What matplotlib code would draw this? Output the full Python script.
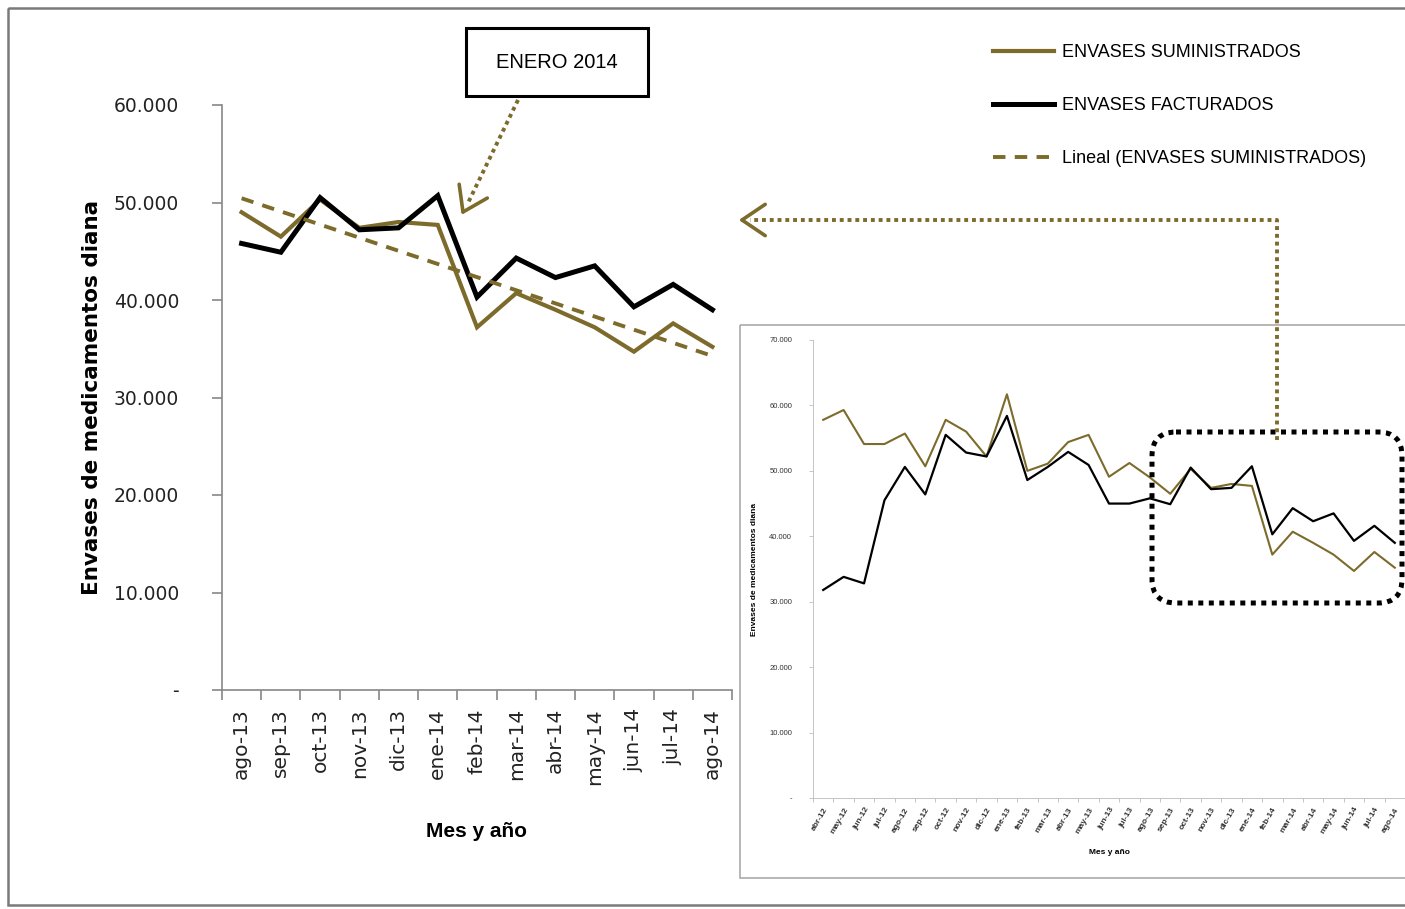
import numpy as np
import matplotlib
matplotlib.use("Agg")
import matplotlib.pyplot as plt
from matplotlib.patches import Rectangle, FancyBboxPatch
from matplotlib.ticker import FuncFormatter

# data
meses = ['abr-12', 'may-12', 'jun-12', 'jul-12', 'ago-12', 'sep-12', 'oct-12', 'nov-12',
         'dic-12', 'ene-13', 'feb-13', 'mar-13', 'abr-13', 'may-13', 'jun-13', 'jul-13',
         'ago-13', 'sep-13', 'oct-13', 'nov-13', 'dic-13', 'ene-14', 'feb-14', 'mar-14',
         'abr-14', 'may-14', 'jun-14', 'jul-14', 'ago-14']
suministrados = [57800, 59300, 54100, 54100, 55700, 50700, 57800, 56000, 52200, 61700,
                 50000, 51100, 54400, 55500, 49100, 51200, 49000, 46500, 50300, 47400,
                 48000, 47700, 37200, 40700, 39000, 37200, 34700, 37600, 35200]
facturados = [31800, 33800, 32800, 45500, 50600, 46400, 55500, 52800, 52200, 58400,
              48600, 50600, 52900, 50900, 45000, 45000, 45800, 44900, 50500, 47200,
              47400, 50700, 40300, 44300, 42300, 43500, 39300, 41600, 39000]
n_zoom = 13  # ago-13 .. ago-14

meses_zoom = meses[-n_zoom:]
sum_zoom = suministrados[-n_zoom:]
fac_zoom = facturados[-n_zoom:]

GOLD = '#7d6b2c'
NARROW = ['Liberation Sans', 'DejaVu Sans']
W, H = 1405, 909

fig = plt.figure(figsize=(W / 100, H / 100), dpi=100)
fig.patch.set_facecolor('white')


def miles(v, pos):
    if v == 0:
        return '-'
    return f'{int(v):,}'.replace(',', '.')


# ---- main chart ----
ax = fig.add_axes([222 / W, 1 - 690 / H, (732 - 222) / W, (690 - 105) / H])
x = np.arange(n_zoom)
l_sum, = ax.plot(x, sum_zoom, color=GOLD, lw=3.0, solid_joinstyle='miter')
l_fac, = ax.plot(x, fac_zoom, color='black', lw=3.6, solid_joinstyle='miter')
coef = np.polyfit(x, sum_zoom, 1)
l_trend, = ax.plot(x, np.polyval(coef, x), color=GOLD, lw=2.8, ls=(0, (3.2, 2.4)))

ax.set_xlim(-0.5, n_zoom - 0.5)
ax.set_ylim(0, 60000)
ax.set_yticks(np.arange(0, 60001, 10000))
ax.yaxis.set_major_formatter(FuncFormatter(miles))
ax.set_xticks(x)
ax.set_xticklabels(meses_zoom, rotation=90, fontsize=14.5, color='#222222')
ax.set_xticks(np.arange(-0.5, n_zoom, 1), minor=True)
ax.tick_params(axis='x', which='major', length=0, pad=13)
ax.tick_params(axis='x', which='minor', length=7, width=1.2, color='#888888', direction='out')
ax.tick_params(axis='y', length=7, width=1.2, color='#888888', pad=24, labelsize=13.5,
               labelcolor='#222222')
for s in ['top', 'right']:
    ax.spines[s].set_visible(False)
for s in ['left', 'bottom']:
    ax.spines[s].set_color('#888888')
    ax.spines[s].set_linewidth(1.2)
ax.set_ylabel('Envases de medicamentos diana', fontsize=15.5, fontweight='bold', labelpad=8)
ax.set_xlabel('Mes y año', fontsize=15, fontweight='bold', family=NARROW, labelpad=27)

fig.legend([l_sum, l_fac, l_trend],
           ['ENVASES SUMINISTRADOS', 'ENVASES FACTURADOS', 'Lineal (ENVASES SUMINISTRADOS)'],
           loc='upper left', bbox_to_anchor=(993 / W, 1 - 44 / H), frameon=False,
           handlelength=3.4, handletextpad=0.4, labelspacing=2.0, borderpad=0,
           borderaxespad=0, prop={'family': NARROW, 'size': 13})

# ---- inset with the full series ----
ins = fig.add_axes([813 / W, 1 - 798 / H, (1405 - 813) / W, (798 - 340) / H])
xi = np.arange(len(meses))
ins.plot(xi, suministrados, color=GOLD, lw=1.5)
ins.plot(xi, facturados, color='black', lw=1.6)
ins.set_xlim(-0.5, len(meses) - 0.5)
ins.set_ylim(0, 70000)
ins.set_yticks(np.arange(0, 70001, 10000))
ins.yaxis.set_major_formatter(FuncFormatter(miles))
ins.set_xticks(xi)
ins.set_xticklabels(meses, rotation=60, ha='right', rotation_mode='anchor',
                    fontsize=6, family=NARROW, fontweight='bold', color='#333333')
ins.set_xticks(np.arange(-0.5, len(meses), 1), minor=True)
ins.tick_params(axis='x', which='major', length=0, pad=6)
ins.tick_params(axis='x', which='minor', length=3, width=0.6, color='#bbbbbb')
ins.tick_params(axis='y', length=3, width=0.6, color='#bbbbbb', pad=12, labelsize=5.5,
                labelcolor='#333333')
for lbl in ins.get_yticklabels():
    lbl.set_family(NARROW)
for s in ['top', 'right']:
    ins.spines[s].set_visible(False)
for s in ['left', 'bottom']:
    ins.spines[s].set_color('#bbbbbb')
    ins.spines[s].set_linewidth(0.6)
ins.set_ylabel('Envases de medicamentos diana', fontsize=6, fontweight='bold', family=NARROW,
               labelpad=8)
ins.set_xlabel('Mes y año', fontsize=6, fontweight='bold', family=NARROW, labelpad=10)

# ---- annotations in pixel space ----
ov = fig.add_axes([0, 0, 1, 1])
ov.set_xlim(0, W)
ov.set_ylim(H, 0)
ov.axis('off')
ov.patch.set_alpha(0)

ov.add_patch(Rectangle((8, 8), W + 10, 897, fill=False, ec='#7a7a7a', lw=1.8))
ov.add_patch(Rectangle((740, 325), W, 553, fill=False, ec='#aaaaaa', lw=1.2))

ov.add_patch(Rectangle((466, 28), 182, 68, fill=True, fc='white', ec='black', lw=2.2))
ov.text(557, 63, 'ENERO 2014', ha='center', va='center', fontsize=14.5, family=NARROW)

ov.add_patch(FancyBboxPatch((1152, 432), 250, 171, boxstyle='round,pad=0,rounding_size=24',
                            fill=False, ec='black', lw=3.6, ls=(0, (1, 1.1))))


def open_head(tip, back, length=28, ang=34):
    d = np.array(back, float) - np.array(tip, float)
    a0 = np.arctan2(d[1], d[0])
    for s in (-1, 1):
        a = a0 + s * np.radians(ang)
        ov.plot([tip[0], tip[0] + length * np.cos(a)], [tip[1], tip[1] + length * np.sin(a)],
                color=GOLD, lw=2.6, solid_capstyle='round')


ov.plot([518, 467], [100, 205], color=GOLD, lw=2.8, ls=(0, (1, 1)))
open_head((463, 212), (518, 100))

ov.plot([1277, 1277, 750], [440, 220, 220], color=GOLD, lw=2.8, ls=(0, (1, 1)))
open_head((742, 220), (800, 220))

fig.savefig('out.png', dpi=100, facecolor='white')
